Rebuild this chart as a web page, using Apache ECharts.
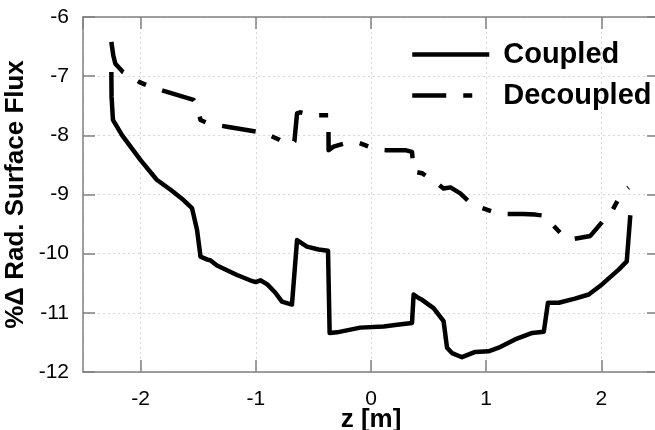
<!DOCTYPE html>
<html>
<head>
<meta charset="utf-8">
<script src="https://cdn.jsdelivr.net/npm/echarts@6/dist/echarts.min.js"></script>
<style>
html,body{margin:0;padding:0;background:#fff;}
#c{width:655px;height:430px;}
</style>
</head>
<body>
<div id="c"></div>
<script>
const seriesNames = ['Coupled', 'Decoupled'];
const xTicks = [-2, -1, 0, 1, 2];
const yTicks = [-12, -11, -10, -9, -8, -7, -6];

const coupledX = [-2.254, -2.252, -2.24, -2.16, -2.0, -1.86, -1.74, -1.63, -1.554, -1.51, -1.48, -1.42, -1.395, -1.337, -1.163, -1.05, -1.0, -0.96, -0.90, -0.83, -0.773, -0.686, -0.642, -0.628, -0.556, -0.455, -0.373, -0.359, -0.295, -0.093, 0.11, 0.226, 0.356, 0.37, 0.413, 0.443, 0.543, 0.63, 0.66, 0.703, 0.79, 0.905, 1.02, 1.108, 1.25, 1.40, 1.50, 1.536, 1.63, 1.77, 1.89, 2.005, 2.15, 2.22, 2.236, 2.251];
const coupledY = [-6.93, -7.35, -7.74, -8.0, -8.42, -8.75, -8.92, -9.09, -9.23, -9.6, -10.05, -10.10, -10.11, -10.2, -10.36, -10.45, -10.48, -10.45, -10.52, -10.66, -10.81, -10.86, -9.77, -9.75, -9.88, -9.93, -9.95, -11.34, -11.33, -11.25, -11.23, -11.2, -11.17, -10.69, -10.75, -10.78, -10.92, -11.14, -11.59, -11.68, -11.75, -11.66, -11.65, -11.59, -11.45, -11.34, -11.32, -10.83, -10.83, -10.76, -10.69, -10.52, -10.27, -10.13, -10.10, -9.35];

const decoupledX = [-2.254, -2.237, -2.219, -2.153, -2.01, -1.944, -1.80, -1.54, -1.516, -1.48, -1.467, -1.41, -1.25, -0.99, -0.946, -0.80, -0.744, -0.69, -0.665, -0.642, -0.615, -0.512, -0.37, -0.368, -0.325, -0.208, -0.108, 0.052, 0.124, 0.298, 0.356, 0.37, 0.443, 0.573, 0.63, 0.69, 0.775, 0.862, 0.934, 1.079, 1.151, 1.32, 1.426, 1.513, 1.571, 1.678, 1.75, 1.904, 2.10, 2.179, 2.236];
const decoupledY = [-6.42, -6.65, -6.79, -6.93, -7.10, -7.155, -7.25, -7.40, -7.46, -7.74, -7.77, -7.80, -7.855, -7.94, -7.94, -8.07, -8.135, -8.16, -8.10, -7.63, -7.61, -7.66, -7.66, -8.25, -8.19, -8.125, -8.125, -8.24, -8.25, -8.25, -8.28, -8.61, -8.64, -8.81, -8.90, -8.88, -8.98, -9.14, -9.21, -9.305, -9.33, -9.33, -9.34, -9.36, -9.50, -9.72, -9.755, -9.70, -9.25, -8.97, -8.88];

const FONT = 'Liberation Sans, Arial, sans-serif';
const AX = '#808080';

function pairs(xs, ys) { return xs.map((x, i) => [x, ys[i]]); }

const chart = echarts.init(document.getElementById('c'), null, {renderer: 'canvas'});

const tickStyle = {show: true, inside: true, length: 12, lineStyle: {color: AX, width: 1.5}};
const lineAx = {show: true, onZero: false, lineStyle: {color: AX, width: 1.5}};
const gridLine = {show: true, lineStyle: {color: '#d6d6d6', type: [2, 3], width: 1}};

const option = {
  animation: false,
  backgroundColor: '#fff',
  textStyle: {fontFamily: FONT},
  grid: {left: 83, right: -4, top: 17, bottom: 58, containLabel: false, outerBoundsMode: 'none'},
  legend: {
    data: seriesNames,
    orient: 'vertical',
    left: 405,
    top: 35,
    itemWidth: 77,
    itemHeight: 30,
    itemGap: 12,
    lineStyle: {width: 4.5},
    itemStyle: {opacity: 0, color: 'rgba(0,0,0,0)', borderWidth: 0},
    textStyle: {fontSize: 29, fontWeight: 'bold', color: '#000', fontFamily: FONT, padding: [0, 0, 0, 9]}
  },
  xAxis: [
    {
      type: 'value', min: -2.5, max: 2.5, position: 'bottom',
      name: 'z [m]', nameLocation: 'middle', nameGap: 35, nameMoveOverlap: false,
      nameTextStyle: {fontSize: 26, fontWeight: 'bold', color: '#000', fontFamily: FONT},
      axisLine: lineAx, axisTick: tickStyle,
      axisLabel: {fontSize: 21, color: '#000', margin: 17, fontFamily: FONT,
        showMinLabel: false, showMaxLabel: false,
        formatter: v => xTicks.includes(v) ? String(v) : ''},
      splitLine: gridLine
    },
    {
      type: 'value', min: -2.5, max: 2.5, position: 'top',
      axisLine: lineAx, axisTick: tickStyle,
      axisLabel: {show: false}, splitLine: {show: false}
    }
  ],
  yAxis: [
    {
      type: 'value', min: yTicks[0], max: yTicks[yTicks.length - 1], interval: 1, position: 'left',
      name: '%Δ Rad. Surface Flux', nameLocation: 'middle', nameGap: 54, nameMoveOverlap: false,
      nameTextStyle: {fontSize: 26, fontWeight: 'bold', color: '#000', fontFamily: FONT},
      axisLine: lineAx, axisTick: tickStyle,
      axisLabel: {fontSize: 21, color: '#000', margin: 14, fontFamily: FONT},
      splitLine: gridLine
    },
    {
      type: 'value', min: yTicks[0], max: yTicks[yTicks.length - 1], interval: 1, position: 'right',
      axisLine: lineAx, axisTick: tickStyle,
      axisLabel: {show: false}, splitLine: {show: false}
    }
  ],
  series: [
    {
      name: seriesNames[0], type: 'line', xAxisIndex: 0, yAxisIndex: 0,
      data: pairs(coupledX, coupledY), symbol: 'none', showSymbol: false,
      lineStyle: {color: '#000', width: 4.5, type: 'solid', join: 'round', cap: 'butt'},
      itemStyle: {color: '#000'}
    },
    {
      name: seriesNames[1], type: 'line', xAxisIndex: 0, yAxisIndex: 0,
      data: pairs(decoupledX, decoupledY), symbol: 'none', showSymbol: false,
      lineStyle: {color: '#000', width: 4.5, type: [34, 17, 9, 17], join: 'round', cap: 'butt'},
      itemStyle: {color: '#000'}
    }
  ]
};
chart.setOption(option);
</script>
</body>
</html>
